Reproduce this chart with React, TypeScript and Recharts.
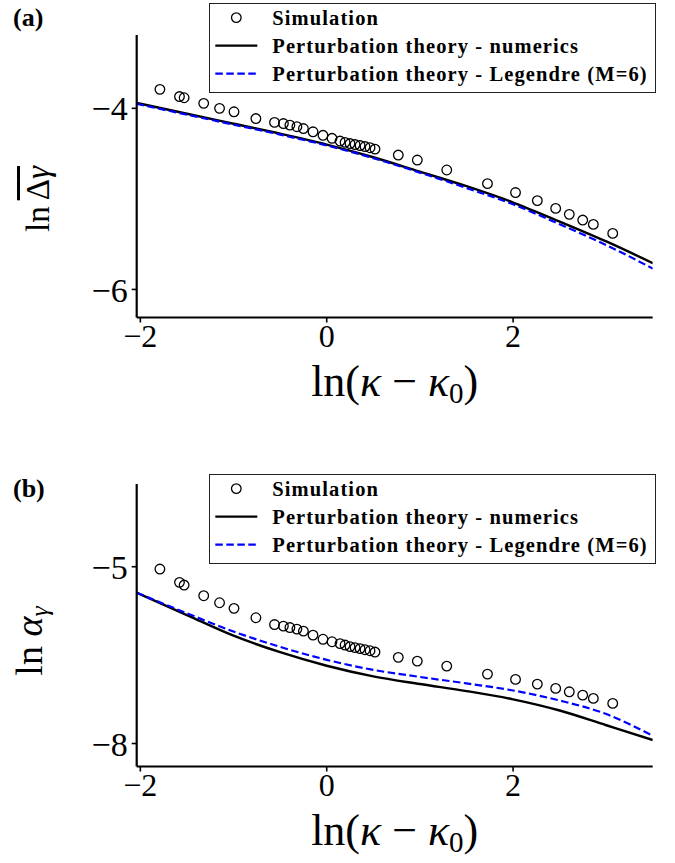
import React from 'react';
import { ComposedChart, Line, Scatter, XAxis, YAxis } from 'recharts';

// ---- data ----
const simX = [-1.79, -1.58, -1.53, -1.32, -1.15, -0.995, -0.76, -0.56, -0.465, -0.395, -0.32, -0.25, -0.147, -0.04, 0.057, 0.143, 0.197, 0.25, 0.304, 0.358, 0.411, 0.465, 0.518, 0.768, 0.972, 1.288, 1.725, 2.026, 2.26, 2.457, 2.603, 2.747, 2.861, 3.069];
const simTopY = [-3.79, -3.87, -3.883, -3.945, -4.0, -4.038, -4.113, -4.155, -4.168, -4.185, -4.203, -4.223, -4.259, -4.298, -4.331, -4.361, -4.376, -4.389, -4.4, -4.411, -4.422, -4.435, -4.45, -4.516, -4.571, -4.681, -4.831, -4.93, -5.019, -5.105, -5.171, -5.234, -5.282, -5.381];
const simBotY = [-5.039, -5.265, -5.311, -5.492, -5.611, -5.706, -5.866, -5.981, -6.007, -6.032, -6.058, -6.092, -6.16, -6.231, -6.273, -6.304, -6.329, -6.355, -6.372, -6.389, -6.409, -6.426, -6.448, -6.538, -6.601, -6.686, -6.822, -6.912, -6.992, -7.065, -7.122, -7.178, -7.234, -7.319];

const curveX = [-2.04, -1.5, -1.0, -0.5, 0, 0.5, 1.0, 1.5, 2.0, 2.5, 3.0, 3.5];
const topNumerics = [-3.94, -4.06, -4.17, -4.28, -4.40, -4.54, -4.70, -4.86, -5.04, -5.25, -5.47, -5.71];
const topLegendre = [-3.95, -4.07, -4.18, -4.29, -4.41, -4.55, -4.71, -4.88, -5.06, -5.28, -5.51, -5.77];
const botNumerics = [-5.44, -5.82, -6.17, -6.45, -6.68, -6.86, -6.99, -7.11, -7.25, -7.44, -7.69, -7.94];
const botLegendre = [-5.44, -5.79, -6.10, -6.36, -6.58, -6.75, -6.87, -6.98, -7.10, -7.27, -7.50, -7.87];

const xTicks = [-2, 0, 2];
const topYTicks = [-6, -4];
const botYTicks = [-8, -5];
const xDomain = [-2.039, 3.498];
const topYDomain = [-6.31, -3.19];
const botYDomain = [-8.39, -3.596];

const legendLabels = ['Simulation', 'Perturbation theory - numerics', 'Perturbation theory - Legendre (M=6)'];
const panelLabels = ['(a)', '(b)'];

// ---- helpers ----
const toPts = (xs: number[], ys: number[]) => xs.map((x, i) => ({ x, y: ys[i] }));
const fmt = (v: number) => (v < 0 ? '\u2212' + Math.abs(v) : String(v));
const SERIF = '"Liberation Serif", "DejaVu Serif", serif';

const OpenCircle = (props: any) => {
  const { cx, cy } = props;
  if (cx == null || cy == null) return null;
  return <circle cx={cx} cy={cy} r={4.8} fill="none" stroke="#000" strokeWidth={1.3} />;
};

const LegendBox = ({ left, top }: { left: number; top: number }) => {
  const rows = [14.6, 42.6, 70.6];
  return (
    <svg width={447} height={90} style={{ position: 'absolute', left, top, display: 'block' }}>
      <rect x={0.5} y={0.5} width={446} height={89} fill="#fff" stroke="#222" strokeWidth={1} />
      <circle cx={27.3} cy={rows[0]} r={4.8} fill="none" stroke="#000" strokeWidth={1.3} />
      <line x1={6.3} x2={48.3} y1={rows[1]} y2={rows[1]} stroke="#000" strokeWidth={2.4} />
      <line x1={6.3} x2={48.3} y1={rows[2]} y2={rows[2]} stroke="#0000ff" strokeWidth={2.2} strokeDasharray="7.5 3.5" />
      {legendLabels.map((t, i) => (
        <text key={t} x={63.3} y={rows[i]} dy="0.36em" fontFamily={SERIF} fontWeight="bold" fontSize={20.5} letterSpacing={1.1} fill="#000">
          {t}
        </text>
      ))}
    </svg>
  );
};

type PanelProps = {
  top: number;
  simY: number[];
  numerics: number[];
  legendre: number[];
  yDomain: number[];
  yTicks: number[];
};

const Panel = ({ top, simY, numerics, legendre, yDomain, yTicks }: PanelProps) => {
  const sim = toPts(simX, simY);
  const num = toPts(curveX, numerics);
  const leg = toPts(curveX, legendre);
  return (
    <div style={{ position: 'absolute', left: 0, top }}>
      <ComposedChart
        width={675}
        height={420}
        margin={{ top: 35, right: 22.3, left: 56.7, bottom: 42.5 }}
      >
        <XAxis
          dataKey="x"
          type="number"
          domain={xDomain}
          allowDataOverflow
          ticks={xTicks}
          tickFormatter={fmt}
          height={60}
          axisLine={{ stroke: '#000', strokeWidth: 2.2 }}
          tickLine={{ stroke: '#000', strokeWidth: 1.6 }}
          tickSize={5}
          tickMargin={2}
          tick={{ fontFamily: SERIF, fontSize: 32, fill: '#000' }}
        />
        <YAxis
          dataKey="y"
          type="number"
          domain={yDomain}
          allowDataOverflow
          ticks={yTicks}
          tickFormatter={fmt}
          width={80}
          axisLine={{ stroke: '#000', strokeWidth: 2.2 }}
          tickLine={{ stroke: '#000', strokeWidth: 1.6 }}
          tickSize={5}
          tickMargin={4}
          tick={{ fontFamily: SERIF, fontSize: 34, fill: '#000' }}
        />
        <Line
          data={num}
          dataKey="y"
          type="monotone"
          stroke="#000"
          strokeWidth={2.4}
          dot={false}
          activeDot={false}
          isAnimationActive={false}
          name={legendLabels[1]}
        />
        <Line
          data={leg}
          dataKey="y"
          type="monotone"
          stroke="#0000ff"
          strokeWidth={2.2}
          strokeDasharray="7.5 3.5"
          dot={false}
          activeDot={false}
          isAnimationActive={false}
          name={legendLabels[2]}
        />
        <Scatter
          data={sim}
          dataKey="y"
          shape={OpenCircle}
          isAnimationActive={false}
          name={legendLabels[0]}
        />
      </ComposedChart>
    </div>
  );
};

const XLabel = ({ top }: { top: number }) => (
  <div style={{ position: 'absolute', left: 136.7, width: 516, top, textAlign: 'center', fontSize: 44, lineHeight: '44px', whiteSpace: 'nowrap' }}>
    ln(<i>κ</i><span style={{ margin: '0 11px' }}>−</span><i>κ</i><sub style={{ fontSize: 29, verticalAlign: -7, lineHeight: 0 }}>0</sub>)
  </div>
);

export default function App() {
  return (
    <div style={{ position: 'absolute', left: 0, top: 0, width: 675, height: 863, background: '#fff', fontFamily: SERIF }}>
      <Panel top={0} simY={simTopY} numerics={topNumerics} legendre={topLegendre} yDomain={topYDomain} yTicks={topYTicks} />
      <Panel top={449} simY={simBotY} numerics={botNumerics} legendre={botLegendre} yDomain={botYDomain} yTicks={botYTicks} />

      <LegendBox left={208.7} top={2.7} />
      <LegendBox left={208.7} top={474} />

      {/* panel labels */}
      <div style={{ position: 'absolute', left: 13, top: 3, fontSize: 26, fontWeight: 'bold' }}>{panelLabels[0]}</div>
      <div style={{ position: 'absolute', left: 13, top: 474, fontSize: 26, fontWeight: 'bold' }}>{panelLabels[1]}</div>

      {/* x labels */}
      <XLabel top={360} />
      <XLabel top={809} />

      {/* y labels */}
      <div style={{ position: 'absolute', left: 38, top: 199, transform: 'translate(-50%, -50%) rotate(-90deg)', fontSize: 33, lineHeight: '44px', whiteSpace: 'nowrap' }}>
        ln<span style={{ marginLeft: 6, textDecoration: 'overline' }}>Δ</span><i style={{ textDecoration: 'overline' }}>γ</i>
      </div>
      <div style={{ position: 'absolute', left: 34, top: 641, transform: 'translate(-50%, -50%) rotate(-90deg)', fontSize: 38, lineHeight: '46px', whiteSpace: 'nowrap' }}>
        ln <i>α</i><sub style={{ fontSize: 26, verticalAlign: -6 }}><i>γ</i></sub>
      </div>
    </div>
  );
}
